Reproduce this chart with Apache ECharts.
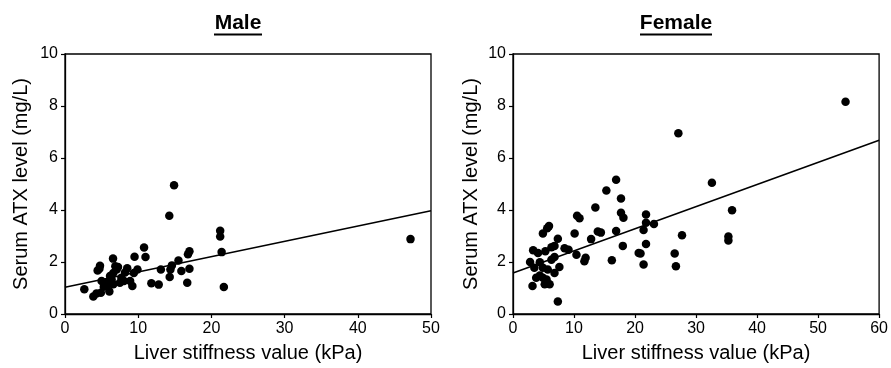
<!DOCTYPE html>
<html>
<head>
<meta charset="utf-8">
<script src="https://cdn.jsdelivr.net/npm/echarts@6/dist/echarts.min.js"></script>
<style>
html,body{margin:0;padding:0;background:#fff;}
#c{width:891px;height:368px;}
</style>
</head>
<body>
<div id="c"></div>
<script>
// ---- Data ----
var maleX = [14.9,14.25,10.8,11.0,9.5,6.56,4.78,4.7,4.46,7.24,6.88,8.5,2.64,3.87,4.3,4.9,6.06,5.0,5.7,6.37,5.9,6.6,6.15,6.6,7.06,7.7,8.06,8.9,9.2,9.4,9.9,11.8,12.8,13.1,14.3,14.4,14.6,15.5,15.9,17.0,16.7,16.8,17.0,21.2,21.2,21.4,21.7,47.2,5.3,7.5,8.2];
var maleY = [4.95,3.78,2.56,2.19,2.2,2.13,1.86,1.74,1.67,1.81,1.84,1.76,0.95,0.67,0.79,0.82,0.87,1.27,1.2,1.33,1.14,1.14,1.46,1.58,1.71,1.39,1.27,1.27,1.08,1.58,1.71,1.18,1.13,1.71,1.42,1.71,1.87,2.06,1.65,1.74,1.2,2.3,2.41,3.2,2.98,2.38,1.04,2.88,1.05,1.2,1.6];
var maleFitX = [0, 50];
var maleFitY = [1.03, 3.97];

var femaleX = [16.9,15.3,17.7,17.7,18.1,13.5,10.5,10.9,5.9,5.6,4.9,10.1,13.9,14.4,16.9,7.35,6.8,6.3,5.3,3.3,4.1,8.45,9.1,12.8,10.4,18.0,20.6,11.9,11.7,16.2,2.8,4.4,6.3,6.8,7.6,3.5,4.9,5.7,6.8,3.8,4.9,5.5,4.4,6.0,3.2,5.2,7.35,27.1,32.6,35.9,21.8,21.8,23.1,21.4,27.7,35.3,35.3,21.8,20.9,21.4,26.5,26.7,54.5];
var femaleY = [5.16,4.75,4.44,3.89,3.7,4.1,3.78,3.68,3.38,3.3,3.1,3.1,3.17,3.13,3.19,2.89,2.62,2.57,2.41,2.45,2.35,2.53,2.47,2.88,2.28,2.62,2.35,2.16,2.03,2.07,2.0,1.99,2.09,2.19,1.81,1.78,1.78,1.71,1.58,1.39,1.39,1.33,1.48,1.14,1.08,1.14,0.48,6.95,5.05,3.99,3.83,3.51,3.46,3.23,3.03,2.98,2.83,2.69,2.33,1.9,2.33,1.84,8.16];
var femaleFitX = [0, 60];
var femaleFitY = [1.58, 6.68];

var titles = ['Male', 'Female'];
var xName = 'Liver stiffness value (kPa)';
var yName = 'Serum ATX level (mg/L)';
var xMax = [50, 60];
var yTicks = [0, 2, 4, 6, 8, 10];

function zip(a, b) { return a.map(function (v, i) { return [v, b[i]]; }); }

var FONT = 'Liberation Sans, Arial, sans-serif';
var chart = echarts.init(document.getElementById('c'));

function xAxis(idx, max, gap) {
  return {
    type: 'value', gridIndex: idx, min: 0, max: max, interval: 10,
    name: xName, nameLocation: 'middle', nameGap: gap,
    nameTextStyle: { fontFamily: FONT, fontSize: 20, color: '#000' },
    axisLine: { show: true, onZero: false, lineStyle: { color: '#000', width: 1.3 } },
    axisTick: { show: true, inside: false, length: 4, lineStyle: { color: '#000', width: 1.2 } },
    axisLabel: { fontFamily: FONT, fontSize: 16, color: '#000', margin: 7 },
    splitLine: { show: false }
  };
}
function yAxis(idx, gap) {
  return {
    type: 'value', gridIndex: idx, min: yTicks[0], max: yTicks[yTicks.length - 1], interval: 2,
    name: yName, nameLocation: 'middle', nameGap: gap,
    nameTextStyle: { fontFamily: FONT, fontSize: 20, color: '#000' },
    axisLine: { show: true, onZero: false, lineStyle: { color: '#000', width: 1.3 } },
    axisTick: { show: true, inside: false, length: 4, lineStyle: { color: '#000', width: 1.2 } },
    axisLabel: { fontFamily: FONT, fontSize: 16, color: '#000', margin: 7 },
    splitLine: { show: false }
  };
}

var option = {
  backgroundColor: '#fff',
  animation: false,
  title: [
    { text: titles[0], left: 238, top: 13, textAlign: 'center', padding: 0,
      textStyle: { fontFamily: FONT, fontSize: 21, fontWeight: 'bold', color: '#000' } },
    { text: titles[1], left: 676, top: 13, textAlign: 'center', padding: 0,
      textStyle: { fontFamily: FONT, fontSize: 21, fontWeight: 'bold', color: '#000' } }
  ],
  graphic: [
    { type: 'line', shape: { x1: 214, y1: 34.5, x2: 262, y2: 34.5 }, style: { stroke: '#000', lineWidth: 1.8 } },
    { type: 'line', shape: { x1: 640, y1: 34.5, x2: 712, y2: 34.5 }, style: { stroke: '#000', lineWidth: 1.8 } }
  ],
  grid: [
    { left: 65, right: 460, top: 54, bottom: 53, show: true, borderColor: '#000', borderWidth: 1.3, backgroundColor: 'transparent' },
    { left: 513, right: 10.5, top: 54, bottom: 53, show: true, borderColor: '#000', borderWidth: 1.3, backgroundColor: 'transparent' }
  ],
  xAxis: [xAxis(0, xMax[0], 29), xAxis(1, xMax[1], 29)],
  yAxis: [yAxis(0, 34), yAxis(1, 32)],
  series: [
    { type: 'scatter', xAxisIndex: 0, yAxisIndex: 0, data: zip(maleX, maleY),
      symbol: 'circle', symbolSize: 8.5, itemStyle: { color: '#000', opacity: 1 } },
    { type: 'line', xAxisIndex: 0, yAxisIndex: 0, data: zip(maleFitX, maleFitY),
      symbol: 'none', lineStyle: { color: '#000', width: 1.6 } },
    { type: 'scatter', xAxisIndex: 1, yAxisIndex: 1, data: zip(femaleX, femaleY),
      symbol: 'circle', symbolSize: 8.5, itemStyle: { color: '#000', opacity: 1 } },
    { type: 'line', xAxisIndex: 1, yAxisIndex: 1, data: zip(femaleFitX, femaleFitY),
      symbol: 'none', lineStyle: { color: '#000', width: 1.6 } }
  ]
};
chart.setOption(option);
</script>
</body>
</html>
